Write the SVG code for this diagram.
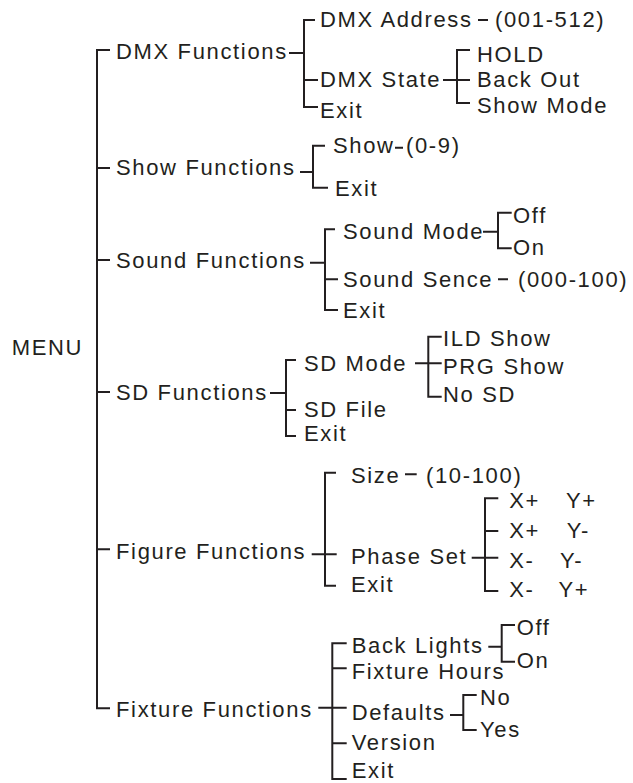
<svg xmlns="http://www.w3.org/2000/svg" width="633" height="783" viewBox="0 0 633 783">
<style>
text{font-family:"Liberation Sans",Arial,Helvetica,sans-serif;font-size:22px;letter-spacing:1.65px;fill:#231f20}
.c{fill:none;stroke:#231f20;stroke-width:2;stroke-linecap:butt}
</style>
<rect width="633" height="783" fill="#ffffff"/>
<g id="connectors" class="c">
<path d="M110,50H97V708.3H110M97,168H110M97,260H110M97,392H110M97,549.3H110"/>
<path d="M289,53H304M315,20H304V107H318M304,80H318M478,20H488M443,80H470M470,50H457V103H470"/>
<path d="M300,172H313M325,145.7H313V187.7H328M395,147.7H403"/>
<path d="M310,262.7H325M335,229.3H325V310H338M325,279.3H338M483,231.7H498M511.7,212.7H498V248.3H511.7M498,279.3H508"/>
<path d="M270,393H286M296,360H286V436H296M286,410H296M415,363.3H441.7M441.7,336.7H428.3V396.7H441.7"/>
<path d="M311.7,554.3H336.7M336,472.7H325V585.7H336M405,474.3H416.7M471.7,557.7H498.3M498.3,498.3H485V591H498.3M485,531H498.3"/>
<path d="M318.3,707.7H346.7M346.7,643.3H332.3V779H346.7M332.3,668.3H346.7M332.3,743.3H346.7M488.3,646.7H501.7M515,625H501.7V661.7H515M450,715H463.3M476.7,695H463.3V730H476.7"/>
</g>
<g id="menu"><text x="11.7" y="355">MENU</text></g>
<g id="dmx-functions"><text x="116" y="58.5">DMX Functions</text></g>
<g id="dmx-address"><text x="320" y="26.7">DMX Address</text><text x="495" y="26.7">(001-512)</text></g>
<g id="dmx-state"><text x="320" y="87.3">DMX State</text></g>
<g id="dmx-exit"><text x="320" y="118.3">Exit</text></g>
<g id="hold"><text x="477" y="61.7">HOLD</text></g>
<g id="back-out"><text x="477" y="87.3">Back Out</text></g>
<g id="show-mode"><text x="477" y="113.3">Show Mode</text></g>
<g id="show-functions"><text x="116" y="175">Show Functions</text></g>
<g id="show"><text x="333" y="153.3">Show</text><text x="406" y="153.3">(0-9)</text></g>
<g id="show-exit"><text x="335" y="195.7">Exit</text></g>
<g id="sound-functions"><text x="116" y="268.3">Sound Functions</text></g>
<g id="sound-mode"><text x="343" y="239.3">Sound Mode</text></g>
<g id="sound-off"><text x="513" y="222.7">Off</text></g>
<g id="sound-on"><text x="513" y="255">On</text></g>
<g id="sound-sence"><text x="343" y="286.7">Sound Sence</text><text x="518" y="286.7">(000-100)</text></g>
<g id="sound-exit"><text x="343" y="318.3">Exit</text></g>
<g id="sd-functions"><text x="116" y="399.5">SD Functions</text></g>
<g id="sd-mode"><text x="304" y="370.7">SD Mode</text></g>
<g id="ild-show"><text x="443" y="345.7">ILD Show</text></g>
<g id="prg-show"><text x="443" y="374.3">PRG Show</text></g>
<g id="no-sd"><text x="443" y="401.7">No SD</text></g>
<g id="sd-file"><text x="304" y="417">SD File</text></g>
<g id="sd-exit"><text x="304" y="441">Exit</text></g>
<g id="figure-functions"><text x="116" y="559">Figure Functions</text></g>
<g id="size"><text x="351" y="482.7">Size</text><text x="426" y="482.7">(10-100)</text></g>
<g id="phase-set"><text x="351" y="564">Phase Set</text></g>
<g id="figure-exit"><text x="351" y="591.7">Exit</text></g>
<g id="xp-yp"><text x="509.3" y="508.3">X+</text><text x="566" y="508.3">Y+</text></g>
<g id="xp-ym"><text x="509.3" y="538.3">X+</text><text x="566.7" y="538.3">Y-</text></g>
<g id="xm-ym"><text x="509.3" y="567.5">X-</text><text x="560" y="567.5">Y-</text></g>
<g id="xm-yp"><text x="509.3" y="597">X-</text><text x="558.5" y="597">Y+</text></g>
<g id="fixture-functions"><text x="116" y="716.7">Fixture Functions</text></g>
<g id="back-lights"><text x="351.7" y="653.3">Back Lights</text></g>
<g id="bl-off"><text x="516.7" y="635">Off</text></g>
<g id="bl-on"><text x="516.7" y="668.3">On</text></g>
<g id="fixture-hours"><text x="351.7" y="679.3">Fixture Hours</text></g>
<g id="defaults"><text x="351.7" y="720">Defaults</text></g>
<g id="def-no"><text x="480" y="705">No</text></g>
<g id="def-yes"><text x="480" y="736.7">Yes</text></g>
<g id="version"><text x="351.7" y="750">Version</text></g>
<g id="fixture-exit"><text x="351.7" y="778">Exit</text></g>
</svg>
